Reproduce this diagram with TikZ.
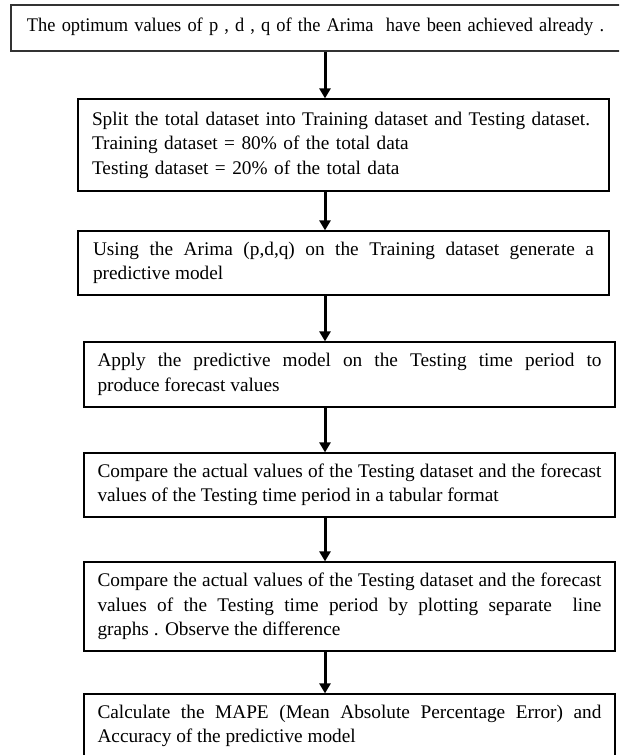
\documentclass[tikz,border=0pt]{standalone}
\usepackage{fontspec}
\usepackage{graphicx}
\setmainfont{Liberation Serif}
\usetikzlibrary{arrows.meta}
\begin{document}
\begin{tikzpicture}[x=1pt,y=-1pt,
 flowbox/.style={draw=black, line width=1.2pt, inner sep=0pt, minimum width=531pt,
   font=\fontsize{19.3}{24.5}\selectfont},
 flowarrow/.style={line width=3pt, -{Triangle[width=11pt,length=10pt]}}]
\useasboundingbox (0,0) rectangle (619,755);
\clip (0,0) rectangle (619,755);
\fill[white] (0,0) rectangle (619,755);
\node[flowbox, line width=1.6pt, draw=black!80, minimum width=614pt, minimum height=46pt,
  text width=582pt, align=left] (b1) at (318,28)
  {\resizebox{577pt}{\height}{The optimum values of p , d , q of the Arima \ have been achieved already .}\vspace{3pt}};
\node[flowbox, minimum height=92pt, text width=503pt, align=left] (b2) at (343.5,145)
  {Split the total dataset into Training dataset and Testing dataset.\\
   Training dataset = 80\% of the total data\\
   Testing dataset = 20\% of the total data};
\node[flowbox, minimum height=64pt, text width=501pt, align=justify] (b3) at (343.5,263)
  {Using the Arima (p,d,q) on the Training dataset generate a\linebreak predictive model};
\node[flowbox, minimum height=65pt, text width=504pt, align=justify] (b4) at (349.5,374.5)
  {Apply the predictive model on the Testing time period to\linebreak produce forecast values};
\node[flowbox, minimum height=64pt, text width=504pt, align=justify] (b5) at (349.5,485)
  {Compare the actual values of the Testing dataset and the forecast\linebreak values of the Testing time period in a tabular format};
\node[flowbox, minimum height=89pt, text width=504pt, align=justify] (b6) at (349.5,606.5)
  {Compare the actual values of the Testing dataset and the forecast\linebreak values of the Testing time period by plotting separate \ line\linebreak graphs . Observe the difference};
\node[flowbox, minimum height=64pt, text width=504pt, align=justify] (b7) at (349.5,726)
  {Calculate the MAPE (Mean Absolute Percentage Error) and\linebreak Accuracy of the predictive model};
\coordinate (ax) at (325,0);
\draw[flowarrow] (b1.south -| ax) -- (b2.north -| ax);
\draw[flowarrow] (b2.south -| ax) -- (b3.north -| ax);
\draw[flowarrow] (b3.south -| ax) -- (b4.north -| ax);
\draw[flowarrow] (b4.south -| ax) -- (b5.north -| ax);
\draw[flowarrow] (b5.south -| ax) -- (b6.north -| ax);
\draw[flowarrow] (b6.south -| ax) -- (b7.north -| ax);
\end{tikzpicture}
\end{document}
